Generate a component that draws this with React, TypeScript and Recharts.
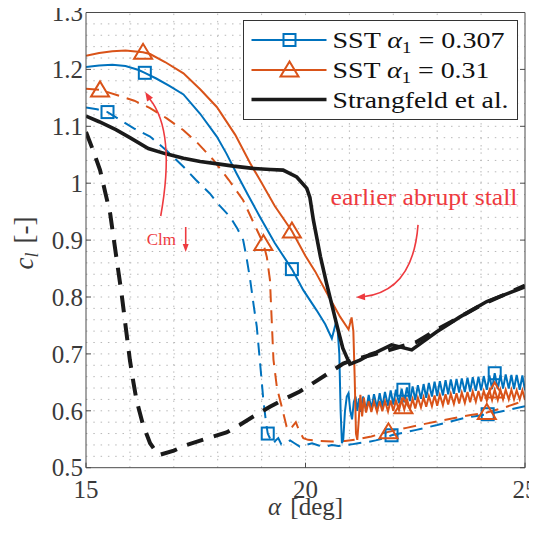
import React from "react";
import {
  ComposedChart,
  Line,
  Scatter,
  XAxis,
  YAxis,
  ReferenceLine,
  ReferenceDot,
  Legend,
} from "recharts";

const BLUE = "#0072BD";
const ORANGE = "#D95319";
const BLACK = "#1a1a1a";
const RED = "#EE3A3F";
const AXIS = "#4a4a4a";
const TXT = "#3a3a3a";
const FONT = "'Liberation Serif', 'Times New Roman', serif";

// ---------- data: [alpha (deg), c_l] ----------
const sst307Solid: [number, number][] = [
  [15.0, 1.204], [15.3, 1.207], [15.6, 1.208], [15.9, 1.206], [16.2, 1.199], [16.34, 1.194],
  [16.6, 1.184], [16.9, 1.171], [17.22, 1.156], [17.6, 1.122], [17.98, 1.082], [18.2, 1.052],
  [18.43, 1.017], [18.7, 0.978], [18.96, 0.941], [19.3, 0.895], [19.69, 0.849], [19.95, 0.812],
  [20.25, 0.777], [20.45, 0.752], [20.6, 0.727], [20.69, 0.754], [20.73, 0.745], [20.77, 0.70],
  [20.8, 0.60], [20.83, 0.543], [20.86, 0.55], [20.9, 0.60], [20.94, 0.625], [20.98, 0.631],
  [21.02, 0.60], [21.06, 0.585], [21.1, 0.615], [21.14, 0.625], [21.18, 0.60], [21.22, 0.622],
  [21.25, 0.598], [21.31, 0.625], [21.38, 0.601], [21.44, 0.628], [21.5, 0.603], [21.56, 0.629],
  [21.63, 0.605], [21.69, 0.631], [21.75, 0.607], [21.81, 0.633], [21.88, 0.609], [21.94, 0.636],
  [22.0, 0.611], [22.06, 0.637], [22.13, 0.613], [22.19, 0.639], [22.25, 0.615], [22.31, 0.641],
  [22.38, 0.617], [22.44, 0.643], [22.5, 0.619], [22.56, 0.645], [22.63, 0.621], [22.69, 0.647],
  [22.75, 0.623], [22.81, 0.649], [22.88, 0.625], [22.94, 0.651], [23.0, 0.626], [23.06, 0.652],
  [23.13, 0.627], [23.19, 0.654], [23.25, 0.629], [23.31, 0.655], [23.38, 0.630], [23.44, 0.656],
  [23.5, 0.632], [23.56, 0.657], [23.63, 0.633], [23.69, 0.658], [23.75, 0.634], [23.81, 0.659],
  [23.88, 0.635], [23.94, 0.660], [24.0, 0.636], [24.06, 0.661], [24.13, 0.637], [24.19, 0.662],
  [24.25, 0.638], [24.31, 0.666], [24.38, 0.638], [24.44, 0.663], [24.5, 0.639], [24.56, 0.664],
  [24.63, 0.639], [24.69, 0.663], [24.75, 0.638], [24.81, 0.663], [24.88, 0.637], [24.94, 0.662],
  [25.0, 0.636],
];

const sst31Solid: [number, number][] = [
  [15.0, 1.224], [15.3, 1.229], [15.6, 1.232], [15.9, 1.233], [16.3, 1.230], [16.46, 1.227],
  [16.8, 1.213], [17.22, 1.193], [17.6, 1.165], [17.98, 1.134], [18.4, 1.085], [18.74, 1.035],
  [18.96, 1.006], [19.3, 0.96], [19.69, 0.916], [20.0, 0.872], [20.22, 0.845], [20.48, 0.808],
  [20.79, 0.765], [20.98, 0.743], [21.05, 0.764], [21.09, 0.74], [21.12, 0.66], [21.15, 0.56],
  [21.18, 0.549], [21.21, 0.58], [21.25, 0.628], [21.29, 0.59], [21.33, 0.623], [21.38, 0.597],
  [21.44, 0.617], [21.5, 0.598], [21.56, 0.616], [21.63, 0.598], [21.69, 0.617], [21.75, 0.599],
  [21.81, 0.617], [21.88, 0.599], [21.94, 0.618], [22.0, 0.600], [22.06, 0.618], [22.13, 0.601],
  [22.19, 0.619], [22.25, 0.602], [22.31, 0.620], [22.38, 0.603], [22.44, 0.621], [22.5, 0.604],
  [22.56, 0.623], [22.63, 0.606], [22.69, 0.624], [22.75, 0.607], [22.81, 0.626], [22.88, 0.608],
  [22.94, 0.627], [23.0, 0.609], [23.06, 0.628], [23.13, 0.610], [23.19, 0.629], [23.25, 0.611],
  [23.31, 0.630], [23.38, 0.612], [23.44, 0.631], [23.5, 0.613], [23.56, 0.632], [23.63, 0.614],
  [23.69, 0.633], [23.75, 0.615], [23.81, 0.634], [23.88, 0.616], [23.94, 0.635], [24.0, 0.617],
  [24.06, 0.635], [24.13, 0.618], [24.19, 0.636], [24.25, 0.619], [24.31, 0.637], [24.38, 0.619],
  [24.44, 0.637], [24.5, 0.620], [24.56, 0.637], [24.63, 0.620], [24.69, 0.637], [24.75, 0.620],
  [24.81, 0.636], [24.88, 0.620], [24.94, 0.636], [25.0, 0.619],
];

const sst307Dashed: [number, number][] = [
  [15.0, 1.133], [15.25, 1.130], [15.49, 1.125], [15.8, 1.11], [16.1, 1.096], [16.46, 1.082],
  [16.84, 1.057], [17.22, 1.029], [17.5, 1.006], [17.82, 0.982], [18.05, 0.96], [18.28, 0.941],
  [18.45, 0.92], [18.58, 0.9], [18.66, 0.868], [18.74, 0.83], [18.82, 0.785], [18.89, 0.748],
  [18.97, 0.68], [19.04, 0.619], [19.1, 0.58], [19.14, 0.56], [19.2, 0.55], [19.26, 0.542],
  [19.32, 0.548], [19.38, 0.552], [19.45, 0.541], [19.55, 0.544], [19.65, 0.548], [19.75, 0.543],
  [19.87, 0.537], [20.0, 0.54], [20.15, 0.543], [20.3, 0.539], [20.45, 0.537], [20.6, 0.54],
  [20.75, 0.538], [20.9, 0.54], [21.05, 0.541], [21.2, 0.543], [21.4, 0.545], [21.6, 0.548],
  [21.8, 0.552], [21.96, 0.557], [22.2, 0.561], [22.5, 0.566], [22.72, 0.57], [23.0, 0.575],
  [23.3, 0.581], [23.6, 0.587], [23.9, 0.591], [24.15, 0.594], [24.4, 0.598], [24.7, 0.603],
  [25.0, 0.608],
];

const sst31Dashed: [number, number][] = [
  [15.0, 1.166], [15.32, 1.164], [15.7, 1.155], [16.1, 1.145], [16.46, 1.132], [16.84, 1.114],
  [17.22, 1.093], [17.55, 1.07], [17.9, 1.041], [18.25, 1.006], [18.58, 0.97], [18.85, 0.925],
  [19.04, 0.894], [19.12, 0.87], [19.19, 0.83], [19.23, 0.76], [19.27, 0.69], [19.35, 0.64],
  [19.46, 0.607], [19.57, 0.572], [19.63, 0.566], [19.7, 0.572], [19.78, 0.58], [19.85, 0.566],
  [19.95, 0.552], [20.06, 0.549], [20.3, 0.547], [20.6, 0.546], [20.9, 0.547], [21.2, 0.55],
  [21.5, 0.555], [21.89, 0.563], [22.3, 0.57], [22.72, 0.577], [23.1, 0.583], [23.5, 0.589],
  [23.8, 0.593], [24.13, 0.597], [24.5, 0.605], [25.0, 0.618],
];

const strangfeld: [number, number][] = [
  [15.0, 1.118], [15.3, 1.108], [15.68, 1.094], [16.0, 1.08], [16.42, 1.061], [16.8, 1.052],
  [17.22, 1.044], [17.6, 1.038], [18.0, 1.034], [18.36, 1.030], [18.8, 1.026], [19.2, 1.024],
  [19.49, 1.023], [19.8, 1.011], [20.03, 0.991], [20.1, 0.975], [20.18, 0.935], [20.34, 0.871],
  [20.48, 0.824], [20.7, 0.755], [20.85, 0.71], [21.01, 0.682], [21.24, 0.689], [21.47, 0.699],
  [21.62, 0.703], [21.96, 0.716], [22.42, 0.707], [22.99, 0.739], [23.52, 0.765], [24.13, 0.792],
  [24.6, 0.806], [25.0, 0.818],
];

const strangfeldDashed: [number, number][] = [
  [15.0, 1.09], [15.15, 1.06], [15.32, 1.023], [15.45, 0.98], [15.55, 0.947], [15.7, 0.865],
  [15.81, 0.806], [15.9, 0.75], [16.0, 0.689], [16.08, 0.65], [16.15, 0.619], [16.3, 0.575],
  [16.46, 0.543], [16.65, 0.522], [17.0, 0.53], [17.29, 0.54], [17.7, 0.55], [18.2, 0.562],
  [18.5, 0.575], [18.81, 0.59], [19.19, 0.607], [19.5, 0.62], [19.87, 0.634], [20.2, 0.65],
  [20.5, 0.665], [20.86, 0.683], [21.1, 0.69], [21.5, 0.698], [22.0, 0.709], [22.53, 0.721],
  [23.0, 0.743], [23.5, 0.764], [24.0, 0.786], [24.5, 0.803], [25.0, 0.82],
];

// marker positions
const sst307SolidMarks: [number, number][] = [[16.34, 1.194], [19.69, 0.849], [22.23, 0.637], [24.31, 0.666]];
const sst307DashedMarks: [number, number][] = [[15.49, 1.125], [19.14, 0.56], [21.96, 0.557], [24.15, 0.594]];
const sst31SolidMarks: [number, number][] = [[16.3, 1.230], [19.69, 0.916], [22.23, 0.607], [24.31, 0.635]];
const sst31DashedMarks: [number, number][] = [[15.32, 1.164], [19.04, 0.894], [21.89, 0.563], [24.13, 0.597]];

const xTicks = [15, 20, 25];
const yTicks = [0.5, 0.6, 0.7, 0.8, 0.9, 1, 1.1, 1.2, 1.3];
const xGrid = [16, 17, 18, 19, 20, 21, 22, 23, 24];
const yGrid: number[] = [];
for (let i = 26; i <= 64; i++) yGrid.push(Math.round(i * 2) / 100);

const legendNames = ["SST", "SST", "Strangfeld et al."];
const legendAlpha = ["0.307", "0.31"];

const stallText = "earlier abrupt stall";
const stallAnchor = { x: 22.7, y: 0.962 };
const clmText = "Clm";
const clmAnchor = { x: 16.383, y: 0.8914 };

const pts = (a: [number, number][]) => a.map(([x, y]) => ({ x, y }));

// ---------- helpers ----------
function arrowHead(tx: number, ty: number, fx: number, fy: number, len = 9, half = 3.5) {
  const dx = tx - fx, dy = ty - fy;
  const L = Math.hypot(dx, dy) || 1;
  const ux = dx / L, uy = dy / L;
  const bx = tx - ux * len, by = ty - uy * len;
  return `${tx},${ty} ${bx - uy * half},${by + ux * half} ${bx + uy * half},${by - ux * half}`;
}

const Square = (props: any) => {
  const { cx, cy } = props;
  if (cx == null || cy == null) return null;
  return <rect x={cx - 6} y={cy - 6} width={12} height={12} fill="none" stroke={BLUE} strokeWidth={2} />;
};
const Triangle = (props: any) => {
  const { cx, cy } = props;
  if (cx == null || cy == null) return null;
  return (
    <polygon
      points={`${cx},${cy - 8.5} ${cx - 9},${cy + 6.5} ${cx + 9},${cy + 6.5}`}
      fill="none"
      stroke={ORANGE}
      strokeWidth={2}
    />
  );
};

const fmt = (v: number) => String(v);

const LeftTick = (p: any) => (
  <g>
    <line x1={p.x} y1={p.y} x2={p.x + 5} y2={p.y} stroke={AXIS} />
    <text x={p.x - 3} y={p.y} dy="0.35em" textAnchor="end" fontSize={25} fontFamily={FONT} fill={TXT}>
      {fmt(p.payload.value)}
    </text>
  </g>
);
const RightTick = (p: any) => <line x1={p.x} y1={p.y} x2={p.x - 5} y2={p.y} stroke={AXIS} />;
const BottomTick = (p: any) => (
  <g>
    <line x1={p.x} y1={p.y} x2={p.x} y2={p.y - 5} stroke={AXIS} />
    <text x={p.x} y={p.y + 30} textAnchor="middle" fontSize={25} fontFamily={FONT} fill={TXT}>
      {fmt(p.payload.value)}
    </text>
  </g>
);
const TopTick = (p: any) => <line x1={p.x} y1={p.y} x2={p.x} y2={p.y + 5} stroke={AXIS} />;

const StallNote = (p: any) => {
  const { cx, cy } = p;
  if (cx == null) return null;
  const P = (dx: number, dy: number) => `${cx + dx},${cy + dy}`;
  return (
    <g>
      <text x={cx} y={cy} textAnchor="middle" fill={RED} fontSize={23} fontFamily={FONT} textLength={187} lengthAdjust="spacingAndGlyphs">
        {stallText}
      </text>
      <path d={`M${P(-6, 20)} C${P(-9, 60)} ${P(-25, 88)} ${P(-61, 92)}`} stroke={RED} strokeWidth={1.6} fill="none" />
      <polygon points={arrowHead(cx - 68, cy + 92.5, cx - 40, cy + 91)} fill={RED} />
    </g>
  );
};

const ClmNote = (p: any) => {
  const { cx, cy } = p;
  if (cx == null) return null;
  const P = (dx: number, dy: number) => `${cx + dx},${cy + dy}`;
  return (
    <g>
      <text x={cx} y={cy} fill={RED} fontSize={17} fontFamily={FONT}>
        {clmText}
      </text>
      <path d={`M${P(14, -29)} C${P(24, -85)} ${P(20, -125)} ${P(3, -146)}`} stroke={RED} strokeWidth={1.6} fill="none" />
      <polygon points={arrowHead(cx - 1.5, cy - 153, cx + 8, cy - 138)} fill={RED} />
      <line x1={cx + 39} y1={cy - 18} x2={cx + 39} y2={cy + 1} stroke={RED} strokeWidth={1.6} />
      <polygon points={arrowHead(cx + 39, cy + 7, cx + 39, cy - 10, 8, 3)} fill={RED} />
    </g>
  );
};

const LegendBox = () => {
  const rows = [20, 50, 79.5];
  const colors = [BLUE, ORANGE, BLACK];
  const lens = [172, 157, 176];
  return (
    <svg width={276} height={100} style={{ display: "block" }}>
      <rect x={0.5} y={0.5} width={274} height={99} fill="#fff" stroke="#333" strokeWidth={1} />
      {rows.map((ry, i) => (
        <g key={i}>
          <line x1={8.5} y1={ry} x2={83.5} y2={ry} stroke={colors[i]} strokeWidth={i === 2 ? 3.5 : 2} />
          {i === 0 && <Square cx={46.5} cy={ry} />}
          {i === 1 && <Triangle cx={46.5} cy={ry} />}
          <text x={89.5} y={ry + 8} fontSize={24} fontFamily={FONT} fill="#111" textLength={lens[i]} lengthAdjust="spacingAndGlyphs">
            {i < 2 ? (
              <>
                {legendNames[i]}{" "}
                <tspan fontStyle="italic">α</tspan>
                <tspan fontSize={16} dy={5}>1</tspan>
                <tspan dy={-5}>{" = " + legendAlpha[i]}</tspan>
              </>
            ) : (
              legendNames[i]
            )}
          </text>
        </g>
      ))}
    </svg>
  );
};

const YLabel = (p: any) => {
  const vb = p.viewBox || {};
  const cx = 25;
  const cy = (vb.y ?? 0) + (vb.height ?? 0) / 2 + 3;
  return (
    <text transform={`translate(${cx},${cy}) rotate(-90)`} textAnchor="middle" fontSize={27} fontFamily={FONT} fill={TXT}>
      <tspan fontStyle="italic">c</tspan>
      <tspan fontStyle="italic" fontSize={18} dy={5}>l</tspan>
      <tspan dy={-5} dx={9}>{"[-]"}</tspan>
    </text>
  );
};

const XLabel = (p: any) => {
  const vb = p.viewBox || {};
  const cx = (vb.x ?? 0) + (vb.width ?? 0) / 2;
  const cy = (vb.y ?? 0) + 47;
  return (
    <text x={cx} y={cy} textAnchor="middle" fontSize={25} fontFamily={FONT} fill={TXT}>
      <tspan fontStyle="italic">α</tspan>
      <tspan dx={3}>{" [deg]"}</tspan>
    </text>
  );
};

export default function App() {
  return (
    <div style={{ width: 529, height: 519, overflow: "visible" }}>
      <style>{`html,body{overflow:hidden;} .recharts-surface{overflow:visible !important;} .recharts-wrapper{overflow:visible !important;}`}</style>
      <ComposedChart
        width={529}
        height={519}
        margin={{ top: 0, right: 0, bottom: 0, left: 0 }}
      >
        <XAxis
          xAxisId="b"
          dataKey="x"
          type="number"
          domain={[15, 25]}
          ticks={xTicks}
          interval={0}
          allowDataOverflow
          height={59.3}
          tickSize={0}
          tickMargin={0}
          tickLine={false}
          axisLine={{ stroke: AXIS }}
          tick={<BottomTick />}
          label={<XLabel />}
        />
        <XAxis
          xAxisId="t"
          orientation="top"
          type="number"
          domain={[15, 25]}
          ticks={xTicks}
          interval={0}
          allowDataOverflow
          height={4.5}
          tickSize={0}
          tickMargin={0}
          tickLine={false}
          axisLine={{ stroke: AXIS }}
          tick={<TopTick />}
        />
        <YAxis
          yAxisId="l"
          dataKey="y"
          type="number"
          domain={[0.5, 1.3]}
          ticks={yTicks}
          interval={0}
          allowDataOverflow
          width={78}
          tickSize={0}
          tickMargin={0}
          tickLine={false}
          axisLine={{ stroke: AXIS }}
          tick={<LeftTick />}
          label={<YLabel />}
        />
        <YAxis
          yAxisId="r"
          orientation="right"
          type="number"
          domain={[0.5, 1.3]}
          ticks={yTicks}
          interval={0}
          allowDataOverflow
          width={12}
          tickSize={0}
          tickMargin={0}
          tickLine={false}
          axisLine={{ stroke: AXIS }}
          tick={<RightTick />}
        />

        {yGrid.map((v) => (
          <ReferenceLine key={"gy" + v} xAxisId="b" yAxisId="l" y={v} stroke="#b8b8b8" strokeWidth={1} strokeDasharray="1.5 5.8" />
        ))}
        {xGrid.map((v) => (
          <ReferenceLine key={"gx" + v} xAxisId="b" yAxisId="l" x={v} stroke="#b8b8b8" strokeWidth={1} strokeDasharray="1.5 5.8" />
        ))}

        <Line xAxisId="b" yAxisId="l" data={pts(sst307Dashed)} dataKey="y" type="linear" stroke={BLUE} strokeWidth={2} strokeDasharray="13 8" dot={false} activeDot={false} isAnimationActive={false} />
        <Line xAxisId="b" yAxisId="l" data={pts(sst31Dashed)} dataKey="y" type="linear" stroke={ORANGE} strokeWidth={2} strokeDasharray="13 8" dot={false} activeDot={false} isAnimationActive={false} />
        <Line xAxisId="b" yAxisId="l" data={pts(sst307Solid)} dataKey="y" type="linear" stroke={BLUE} strokeWidth={2} dot={false} activeDot={false} isAnimationActive={false} />
        <Line xAxisId="b" yAxisId="l" data={pts(sst31Solid)} dataKey="y" type="linear" stroke={ORANGE} strokeWidth={2} dot={false} activeDot={false} isAnimationActive={false} />
        <Line xAxisId="b" yAxisId="l" data={pts(strangfeldDashed)} dataKey="y" type="linear" stroke={BLACK} strokeWidth={4} strokeDasharray="17 11" dot={false} activeDot={false} isAnimationActive={false} />
        <Line xAxisId="b" yAxisId="l" data={pts(strangfeld)} dataKey="y" type="linear" stroke={BLACK} strokeWidth={3.6} dot={false} activeDot={false} isAnimationActive={false} />

        <Scatter xAxisId="b" yAxisId="l" data={pts(sst307SolidMarks)} dataKey="y" shape={<Square />} isAnimationActive={false} />
        <Scatter xAxisId="b" yAxisId="l" data={pts(sst307DashedMarks)} dataKey="y" shape={<Square />} isAnimationActive={false} />
        <Scatter xAxisId="b" yAxisId="l" data={pts(sst31SolidMarks)} dataKey="y" shape={<Triangle />} isAnimationActive={false} />
        <Scatter xAxisId="b" yAxisId="l" data={pts(sst31DashedMarks)} dataKey="y" shape={<Triangle />} isAnimationActive={false} />

        <ReferenceDot xAxisId="b" yAxisId="l" x={stallAnchor.x} y={stallAnchor.y} r={0} shape={(p: any) => <StallNote {...p} />} />
        <ReferenceDot xAxisId="b" yAxisId="l" x={clmAnchor.x} y={clmAnchor.y} r={0} shape={(p: any) => <ClmNote {...p} />} />

        <Legend
          verticalAlign="middle"
          align="center"
          layout="horizontal"
          content={() => <LegendBox />}
          wrapperStyle={{ left: 235, top: 12, width: 276, height: 100 }}
        />
      </ComposedChart>
    </div>
  );
}
